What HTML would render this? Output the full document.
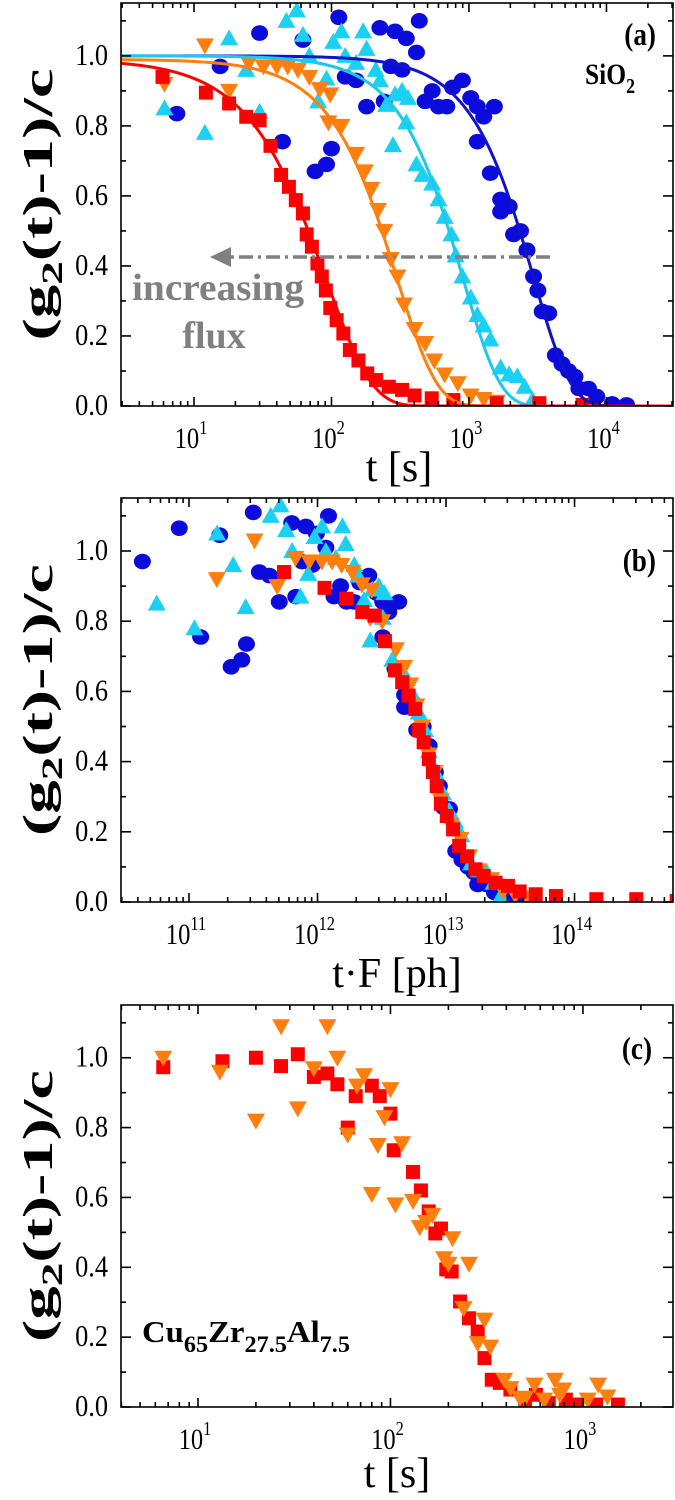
<!DOCTYPE html>
<html><head><meta charset="utf-8">
<style>
html,body{margin:0;padding:0;background:#fff;}
svg{display:block;font-family:"Liberation Serif",serif;}
</style></head>
<body>
<svg id="chart" width="675" height="1500" viewBox="0 0 675 1500" xmlns="http://www.w3.org/2000/svg"></svg>
<script>
// ---- Panel (a) data: SiO2, t [s] vs (g2-1)/c ----
const redT  = [5.9,12.2,18,24,30,36,43,49,55,62,66,72,79,85,91,98,109,122,136,157,182,211,261,326,402,536,770,1590,3250,6700];
const redY  = [0.94,0.895,0.864,0.826,0.816,0.743,0.66,0.626,0.588,0.55,0.49,0.455,0.407,0.37,0.33,0.28,0.245,0.207,0.16,0.13,0.093,0.074,0.055,0.046,0.03,0.022,0.017,0.008,0.008,0.003];
const orangeT = [6.1,12,18,25,32,40,48,57,69,82,98,95,118,151,175,195,218,242,270,302,337,402,480,560,665,830,1030,1280,1590];
const orangeY = [0.92,1.03,0.9,0.98,0.97,0.97,0.97,0.96,0.94,0.905,0.89,0.81,0.8,0.72,0.67,0.62,0.56,0.5,0.42,0.37,0.29,0.22,0.18,0.13,0.09,0.065,0.03,0.02,0.012];
const cyanT = [6.1,12,18,24,30,47,56,62,69,80,92,103,118,126,151,170,180,210,225,250,280,290,326,350,360,415,460,540,600,665,745,800,895,1030,1150,1280,1430,1700,1960,2250,2540,2900];
const cyanY = [0.85,0.78,1.05,0.96,0.84,1.10,1.13,1.06,1.0,0.87,0.935,1.04,1.07,1.0,0.98,1.07,1.02,0.96,0.93,0.86,0.745,0.89,0.9,0.81,0.88,0.69,0.66,0.635,0.59,0.54,0.49,0.43,0.37,0.31,0.26,0.23,0.19,0.11,0.09,0.085,0.055,0.017];
const blueT = [7.5,15.5,30,44,62,76,92,100,113,126,151,180,225,242,290,270,326,350,415,435,480,540,600,690,760,895,1030,1150,1280,1530,1150,1430,1700,1700,1960,2110,2370,2640,2950,3170,3410,3800,4250,4750,5300,5900,6300,7400,8500,11000,14000];
const blueY = [0.835,0.97,1.065,0.755,1.045,0.67,0.69,0.735,1.11,0.94,0.93,0.855,1.08,0.87,1.07,0.97,0.96,1.05,1.01,1.10,0.87,0.9,0.855,0.855,0.91,0.93,0.88,0.855,0.826,0.855,0.755,0.665,0.59,0.555,0.57,0.49,0.5,0.445,0.37,0.33,0.27,0.265,0.145,0.12,0.1,0.084,0.05,0.05,0.027,0.006,0.003];
// KWW fit parameters: red, orange, cyan, blue
const fitTau  = [91, 300, 900, 2945];
const fitBeta = [1.3, 1.5, 1.6, 1.6];
const fitAmp  = [0.99, 0.99, 1.0, 1.0];
// photon flux per series (panel b: t*F)
const fluxF = [9.3e10, 2.7e10, 9.2e9, 2.8e9];
// ---- Panel (c) data: Cu65Zr27.5Al7.5 ----
const cRedT = [6.6,13.4,20,27,33,40,47,53,66,80,88,100,60,104,131,144,158,171,183,195,208,230,256,284,308,336,370,420,500,570,665,815,935,1170,1520];
const cRedY = [0.973,0.99,1.0,0.976,1.01,0.945,0.955,0.924,0.89,0.92,0.89,0.84,0.80,0.735,0.673,0.62,0.56,0.497,0.511,0.394,0.388,0.302,0.254,0.216,0.14,0.078,0.069,0.05,0.016,0.035,0.011,0.021,0.007,0.007,0.007];
const cOrT = [6.6,13,20,27,33,40,47,53,60,67,73,86,100,93,115,80,106,131,142,153,165,190,200,210,256,240,308,284,330,390,420,470,500,560,630,715,790,760,1060,1200,1340];
const cOrY = [1.0,0.96,0.82,1.09,0.855,0.97,1.09,1.0,0.78,0.92,0.95,0.75,0.91,0.83,0.755,0.61,0.58,0.59,0.515,0.53,0.55,0.426,0.41,0.483,0.41,0.283,0.25,0.183,0.173,0.078,0.054,0.026,0.026,0.064,0.021,0.078,0.05,0.035,0.021,0.064,0.03];
const yTicks = [0.0,0.2,0.4,0.6,0.8,1.0];
const yTickLabels = ["0.0","0.2","0.4","0.6","0.8","1.0"];

const NS = "http://www.w3.org/2000/svg";
const svg = document.getElementById('chart');
function mk(tag, attrs, parent){
  const e = document.createElementNS(NS, tag);
  for (const k in attrs) e.setAttribute(k, attrs[k]);
  (parent||svg).appendChild(e);
  return e;
}
function txt(parent, x, y, size, anchor, sx, extra){
  const a = {transform:'translate(' + x + ',' + y + ') scale(' + sx + ',1)', x:0, y:0, 'font-size':size, 'text-anchor':anchor, fill:'#000'};
  for (const k in (extra||{})) a[k] = extra[k];
  return mk('text', a, parent);
}
const C = {red:"#ff0000", orange:"#ff7f0e", cyan:"#1cd0f2", blue:"#0b0bdc"};
const fitC = ["#ff0000","#ff7f0e","#1cc8ec","#1212c8"];

function makePanel(id, L, R, T, B, lmin, lmax, ymax){
  const g = mk('g', {});
  
  
  const xs = v => L + (Math.log10(v) - lmin) / (lmax - lmin) * (R - L);
  const ys = v => B - v / ymax * (B - T);
  const clipId = id + '-clip';
  const cp = mk('clipPath', {id: clipId}, g);
  mk('rect', {x:L, y:T, width:R-L, height:B-T}, cp);
  const plot = mk('g', {'clip-path': 'url(#' + clipId + ')'}, g);
  
  
  const ax = mk('g', {stroke:'#000', 'stroke-width':1.6, fill:'none'}, g);
  
  
  for (let v = 0; v <= ymax + 1e-9; v += 0.1) {
    const major = Math.abs(Math.round(v*10) % 2) === 0;
    const len = major ? 10 : 5;
    const y = ys(v);
    mk('line', {x1:L, x2:L+len, y1:y, y2:y}, ax);
    mk('line', {x1:R, x2:R-len, y1:y, y2:y}, ax);
  }
  yTicks.forEach((v, i) => {
    const t = txt(g, 108, ys(v)+9, 31, 'end', 0.85);
    
    
    t.textContent = yTickLabels[i];
  });
  for (let d = Math.floor(lmin); d <= Math.ceil(lmax); d++) {
    for (let k = 1; k <= 9; k++) {
      const lv = d + Math.log10(k);
      if (lv < lmin || lv > lmax) continue;
      const x = xs(Math.pow(10, lv));
      const len = k === 1 ? 9 : 5;
      mk('line', {x1:x, x2:x, y1:B, y2:B-len}, ax);
      mk('line', {x1:x, x2:x, y1:T, y2:T+len}, ax);
      if (k === 1) {
        const t = txt(g, x-3, B+42, 30, 'middle', 0.82);
        
        
        t.appendChild(document.createTextNode('10'));
        const s = mk('tspan', {dy:-14, 'font-size':20}, t);
        s.textContent = String(d);
      }
    }
  }
  mk('rect', {x:L, y:T, width:R-L, height:B-T}, ax);
  const yt = mk('text', {transform:'translate(' + (L-69) + ',' + ((T+B)/2) + ') rotate(-90)', 'text-anchor':'middle', 'font-size':42, 'font-weight':'bold', fill:'#000', textLength:272, lengthAdjust:'spacingAndGlyphs'}, g);
  
  
  yt.appendChild(document.createTextNode('(g'));
  const sb = mk('tspan', {dy:10, 'font-size':30}, yt); sb.textContent = '2';
  const rs = mk('tspan', {dy:-10}, yt); rs.textContent = '(t)-1)/c';
  return {g, plot, xs, ys};
}

function marker(parent, shape, x, y, color, name){
  let e;
  if (shape === 'circle') e = mk('ellipse', {cx:x, cy:y, rx:8.5, ry:7.8, fill:color}, parent);
  else if (shape === 'square') e = mk('rect', {x:x-7, y:y-7, width:14, height:14, fill:color}, parent);
  else if (shape === 'up') e = mk('polygon', {points:(x-9)+','+(y+7)+' '+(x+9)+','+(y+7)+' '+x+','+(y-9), fill:color}, parent);
  else e = mk('polygon', {points:(x-9)+','+(y-7)+' '+(x+9)+','+(y-7)+' '+x+','+(y+9), fill:color}, parent);
  
  
}
function fitPath(P, tau, beta, amp, lmin, lmax, color, name){
  let d = '';
  for (let i = 0; i <= 300; i++) {
    const lv = lmin + (lmax - lmin) * i / 300;
    const t = Math.pow(10, lv);
    const y = amp * Math.exp(-Math.pow(t / tau, beta));
    d += (i ? 'L' : 'M') + P.xs(t).toFixed(2) + ',' + P.ys(y).toFixed(2);
  }
  const p = mk('path', {d, fill:'none', stroke:color, 'stroke-width':3}, P.plot);
  
  
}

const series = [
  {T:blueT, Y:blueY, shape:'circle', color:C.blue, fi:3, name:'blue-circle-point'},
  {T:cyanT, Y:cyanY, shape:'up', color:C.cyan, fi:2, name:'cyan-triangle-point'},
  {T:orangeT, Y:orangeY, shape:'down', color:C.orange, fi:1, name:'orange-triangle-point'},
  {T:redT, Y:redY, shape:'square', color:C.red, fi:0, name:'red-square-point'}
];

// ---- Panel (a) ----
const A = makePanel('panel-a', 121, 673, 3, 406, 0.469, 4.484, 1.151);
series.forEach(s => s.T.forEach((t, i) => marker(A.plot, s.shape, A.xs(t), A.ys(s.Y[i]), s.color, s.name)));
[3,2,1,0].forEach(i => fitPath(A, fitTau[i], fitBeta[i], fitAmp[i], 0.469, 4.484, fitC[i], 'fit-line-' + ['red','orange','cyan','blue'][i]));
const arr = mk('g', {}, A.g);


mk('line', {x1:550, x2:226, y1:257, y2:257, stroke:'#808080', 'stroke-width':3.5, 'stroke-dasharray':'14,5,3,5'}, arr);
mk('polygon', {points:'210,257 231,247 231,267', fill:'#808080'}, arr);
const inc = mk('text', {x:218, y:300, 'text-anchor':'middle', 'font-size':38, 'font-weight':'bold', fill:'#808080', textLength:172, lengthAdjust:'spacingAndGlyphs'}, A.g);


inc.textContent = 'increasing';
const flx = mk('text', {x:214, y:348, 'text-anchor':'middle', 'font-size':38, 'font-weight':'bold', fill:'#808080'}, A.g);


flx.textContent = 'flux';
const la = txt(A.g, 656, 45, 32, 'end', 0.85, {'font-weight':'bold'});


la.textContent = '(a)';
const si = txt(A.g, 585, 84, 30, 'start', 0.85, {'font-weight':'bold'});


si.appendChild(document.createTextNode('SiO'));
const si2 = mk('tspan', {dy:9, 'font-size':21}, si); si2.textContent = '2';
const xta = mk('text', {x:399, y:481, 'text-anchor':'middle', 'font-size':42, fill:'#000'}, A.g);


xta.textContent = 't [s]';

// ---- Panel (b) ----
const Bp = makePanel('panel-b', 121, 673, 498, 902, 10.471, 14.766, 1.151);
series.forEach(s => s.T.forEach((t, i) => marker(Bp.plot, s.shape, Bp.xs(t * fluxF[s.fi]), Bp.ys(s.Y[i]), s.color, s.name)));
const lb = txt(Bp.g, 656, 571, 32, 'end', 0.85, {'font-weight':'bold'});


lb.textContent = '(b)';
const xtb = mk('text', {x:397, y:987, 'text-anchor':'middle', 'font-size':42, fill:'#000'}, Bp.g);


xtb.textContent = 't·F [ph]';

// ---- Panel (c) ----
const Cp = makePanel('panel-c', 121, 673, 1005, 1407, 0.6, 3.468, 1.151);
cRedT.forEach((t, i) => marker(Cp.plot, 'square', Cp.xs(t), Cp.ys(cRedY[i]), C.red, 'red-square-point'));
cOrT.forEach((t, i) => marker(Cp.plot, 'down', Cp.xs(t), Cp.ys(cOrY[i]), C.orange, 'orange-triangle-point'));
const lc = txt(Cp.g, 652, 1059, 32, 'end', 0.85, {'font-weight':'bold'});


lc.textContent = '(c)';
const cu = mk('text', {x:142, y:1342, 'font-size':31, 'font-weight':'bold', fill:'#000', textLength:208, lengthAdjust:'spacingAndGlyphs'}, Cp.g);


cu.appendChild(document.createTextNode('Cu'));
let ts = mk('tspan', {dy:10, 'font-size':23}, cu); ts.textContent = '65';
ts = mk('tspan', {dy:-10}, cu); ts.textContent = 'Zr';
ts = mk('tspan', {dy:10, 'font-size':23}, cu); ts.textContent = '27.5';
ts = mk('tspan', {dy:-10}, cu); ts.textContent = 'Al';
ts = mk('tspan', {dy:10, 'font-size':23}, cu); ts.textContent = '7.5';
const xtc = mk('text', {x:397, y:1487, 'text-anchor':'middle', 'font-size':42, fill:'#000'}, Cp.g);


xtc.textContent = 't [s]';
</script>
</body></html>
